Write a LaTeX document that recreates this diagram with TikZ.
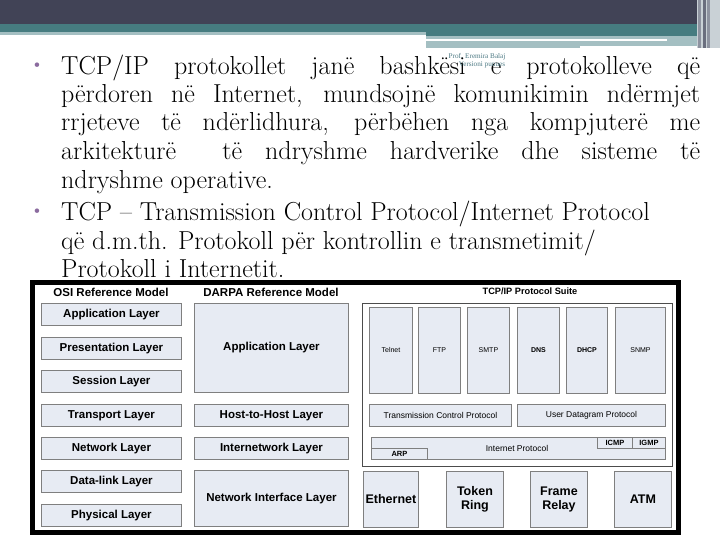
\documentclass[tikz,border=0pt]{standalone}
\usepackage{fontspec}
\newfontfamily\arialfont{Liberation Sans}
\newfontfamily\timesfont{Liberation Serif}
\definecolor{hdrdark}{HTML}{414356}
\definecolor{hdrteal}{HTML}{467C80}
\definecolor{hdrlight}{HTML}{A4BFC2}
\definecolor{stripeA}{HTML}{8E93A0}
\definecolor{stripeB}{HTML}{6A6E7E}
\definecolor{stripeC}{HTML}{C9D1D6}
\definecolor{boxfill}{HTML}{E7EBF3}
\definecolor{boxline}{HTML}{7F7F7F}
\definecolor{bulletc}{HTML}{8B6B9F}
\definecolor{notec}{HTML}{4D7A84}
\begin{document}
\begin{tikzpicture}[x=1pt,y=-1pt,
  lay/.style={draw=boxline, fill=boxfill, line width=0.9pt, inner sep=0pt, anchor=north west, align=center},
  lbl/.style={font=\arialfont\bfseries\fontsize{11.5}{13.5}\selectfont},
  sml/.style={font=\arialfont\fontsize{8.5}{10}\selectfont},
  appl/.style={font=\arialfont\fontsize{7}{8}\selectfont},
  applb/.style={font=\arialfont\bfseries\fontsize{7}{8}\selectfont},
  tinyb/.style={font=\arialfont\bfseries\fontsize{7.5}{8.5}\selectfont},
  big/.style={font=\arialfont\bfseries\fontsize{12.5}{14}\selectfont},
  hdr/.style={font=\arialfont\bfseries\fontsize{11.5}{13.5}\selectfont, inner sep=0pt},
  bodyline/.style={anchor=base west, inner sep=0pt, font=\fontsize{26}{30}\selectfont},
  bul/.style={text=bulletc, inner sep=0pt, font=\fontsize{20}{20}\selectfont},
  note/.style={text=notec, inner sep=0pt, font=\timesfont\fontsize{7.2}{8}\selectfont}]
\useasboundingbox (0,0) rectangle (720,540);
\fill[white] (0,0) rectangle (720,540);
% header bars
\fill[hdrdark] (0,0) rectangle (720,24);
\fill[hdrteal] (0,24) rectangle (700,32);
\fill[hdrteal] (426,32) rectangle (700,36);
\fill[hdrlight] (0,32) rectangle (426,35);
\fill[hdrlight] (426,36) rectangle (697,46);
\fill[white] (426,39) rectangle (667,41.5);
\fill[hdrlight] (426,41.5) rectangle (580,48);
\fill[stripeC] (697,0) rectangle (720,48);
\fill[stripeA] (698,0) rectangle (701,48);
\fill[stripeB] (703,0) rectangle (706,48);
\fill[stripeA] (707,0) rectangle (710,48);
% body text
\node[bul] (b1) at (37,67) {\textbullet};
\node[bodyline] (l1) at (61,75) {\makebox[639pt][s]{TCP/IP protokollet janë bashkësi e protokolleve që}};
\node[bodyline] (l2) at (61,103) {\makebox[639pt][s]{përdoren në Internet, mundsojnë komunikimin ndërmjet}};
\node[bodyline] (l3) at (61,131) {\makebox[639pt][s]{rrjeteve të ndërlidhura, përbëhen nga kompjuterë me}};
\node[bodyline] (l4) at (61,160) {\makebox[639pt][s]{arkitekturë\ \ të ndryshme hardverike dhe sisteme të}};
\node[bodyline] (l5) at (61,189) {ndryshme operative.};
\node[bul] (b2) at (37,213) {\textbullet};
\node[bodyline] (m1) at (61,221) {TCP – Transmission Control Protocol/Internet Protocol};
\node[bodyline] (m2) at (61,249) {që d.m.th. Protokoll për kontrollin e transmetimit/};
\node[bodyline] (m3) at (61,277) {Protokoll i Internetit.};
\node[note] (n1) at (477,57) {Prof. Eremira Balaj};
\node[note] (n2) at (482,65) {Versioni punues};
% diagram frame
\draw[line width=4.5pt, fill=white] (32.5,282.5) rectangle (678.5,532.5);
% headers
\node[hdr] (osiH) at (111,292) {OSI Reference Model};
\node[hdr] (darH) at (271,292) {DARPA Reference Model};
\node[hdr, font=\arialfont\bfseries\fontsize{9.2}{11}\selectfont] (tcpH) at (530,291) {TCP/IP Protocol Suite};
% OSI column
\node[lay, lbl, minimum width=140pt, minimum height=22pt] (osi7) at (41,303) {Application Layer};
\node[lay, lbl, minimum width=140pt, minimum height=22pt] (osi6) at (41,337) {Presentation Layer};
\node[lay, lbl, minimum width=140pt, minimum height=22pt] (osi5) at (41,370) {Session Layer};
\node[lay, lbl, minimum width=140pt, minimum height=22pt] (osi4) at (41,404) {Transport Layer};
\node[lay, lbl, minimum width=140pt, minimum height=22pt] (osi3) at (41,437) {Network Layer};
\node[lay, lbl, minimum width=140pt, minimum height=22pt] (osi2) at (41,470) {Data-link Layer};
\node[lay, lbl, minimum width=140pt, minimum height=22pt] (osi1) at (41,504) {Physical Layer};
% DARPA column
\node[lay, lbl, minimum width=154pt, minimum height=89pt] (da4) at (194,303) {Application Layer};
\node[lay, lbl, minimum width=154pt, minimum height=22pt] (da3) at (194,404) {Host-to-Host Layer};
\node[lay, lbl, minimum width=154pt, minimum height=22pt] (da2) at (194,437) {Internetwork Layer};
\node[lay, lbl, minimum width=154pt, minimum height=56pt] (da1) at (194,470) {Network Interface Layer};
% TCP/IP suite
\node[lay, draw=black!70, fill=white, minimum width=310pt, minimum height=163pt] (suite) at (362,303) {};
\node[lay, appl, minimum width=43pt, minimum height=86pt] (telnet) at (369,307) {Telnet};
\node[lay, appl, minimum width=42pt, minimum height=86pt] (ftp) at (418,307) {FTP};
\node[lay, appl, minimum width=42pt, minimum height=86pt] (smtp) at (467,307) {SMTP};
\node[lay, applb, minimum width=42pt, minimum height=86pt] (dns) at (517,307) {DNS};
\node[lay, applb, minimum width=41pt, minimum height=86pt] (dhcp) at (566,307) {DHCP};
\node[lay, appl, minimum width=50pt, minimum height=86pt] (snmp) at (615,307) {SNMP};
\node[lay, sml, minimum width=142pt, minimum height=22pt] (tcp) at (369,404) {Transmission Control Protocol};
\node[lay, sml, minimum width=148pt, minimum height=22pt] (udp) at (517,404) {User Datagram Protocol};
\node[lay, minimum width=294pt, minimum height=22pt] (ip) at (371,437) {};
\node[sml] (iplbl) at (517,448) {Internet Protocol};
\node[lay, tinyb, minimum width=35pt, minimum height=11pt] (icmp) at (597,437) {ICMP};
\node[lay, tinyb, minimum width=33pt, minimum height=11pt] (igmp) at (632,437) {IGMP};
\node[lay, tinyb, minimum width=56pt, minimum height=11pt] (arp) at (371,448) {ARP};
% network access
\node[lay, big, minimum width=55pt, minimum height=56pt] (eth) at (363,471) {Ethernet};
\node[lay, big, minimum width=57pt, minimum height=56pt] (tok) at (446,471) {Token\\Ring};
\node[lay, big, minimum width=57pt, minimum height=56pt] (frm) at (530,471) {Frame\\Relay};
\node[lay, big, minimum width=57pt, minimum height=56pt] (atm) at (614,471) {ATM};
\end{tikzpicture}
\end{document}
